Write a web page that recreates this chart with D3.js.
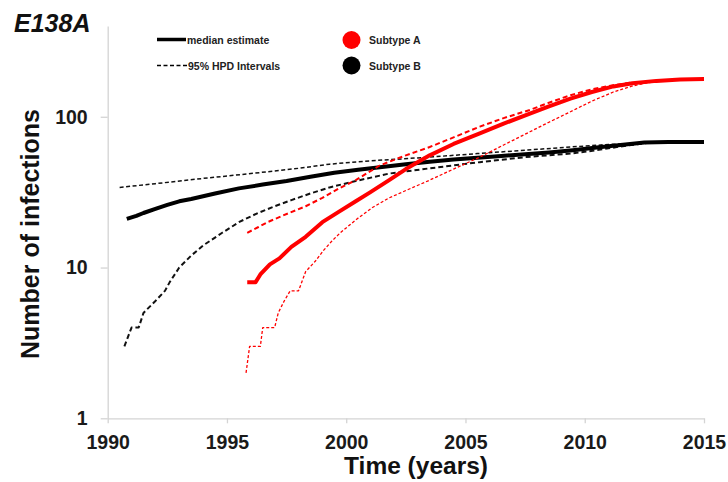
<!DOCTYPE html>
<html>
<head>
<meta charset="utf-8">
<script src="https://cdn.jsdelivr.net/npm/d3@7"></script>
<style>
  html, body { margin: 0; padding: 0; background: #fff; }
  svg { display: block; }
  text { font-family: "Liberation Sans", Arial, sans-serif; }
</style>
</head>
<body>
<div id="chart"></div>
<script>
// ---------- data ----------
const chartTitle = "E138A";
const xTickValues = [1990, 1995, 2000, 2005, 2010, 2015];
const yTickValues = [1, 10, 100];
const xAxisTitle = "Time (years)";
const yAxisTitle = "Number of infections";
const legendLines = ["median estimate", "95% HPD Intervals"];
const legendSubtypes = ["Subtype A", "Subtype B"];

// Subtype B (black)
const subtypeBMedian = [
  [1990.8, 21], [1991.2, 22], [1991.5, 23], [1992.0, 24.5], [1992.5, 26], [1993.0, 27.5],
  [1993.5, 28.5], [1994.5, 31], [1995.5, 33.5], [1996.5, 35.5], [1997.5, 37.5],
  [1998.5, 40], [1999.5, 42.5], [2000.5, 44.5], [2001.5, 46.5], [2002.5, 48.5],
  [2003.5, 50.3], [2004.5, 52], [2005.5, 53.5], [2006.5, 55], [2007.5, 56.5],
  [2008.5, 58], [2009.5, 60], [2010.5, 62.5], [2011.5, 65], [2012.5, 67.5],
  [2013.5, 68], [2015.0, 68]
];
const subtypeBUpper = [
  [1990.5, 34], [1992.0, 36], [1994.0, 39], [1996.0, 42], [1998.0, 45.5],
  [1999.3, 48.5], [2001.0, 51], [2003.5, 54], [2005.5, 57], [2007.5, 60],
  [2009.4, 63], [2011.0, 65.5], [2012.0, 66.5], [2013.0, 67.5]
];
const subtypeBLower = [
  [1990.7, 3], [1991.0, 4], [1991.3, 4], [1991.5, 5], [1992.0, 6], [1992.4, 7],
  [1992.6, 8], [1993.0, 10], [1993.5, 12], [1994.0, 14], [1994.8, 17], [1995.5, 20],
  [1996.3, 23], [1997.0, 25.5], [1997.7, 28], [1998.5, 31], [1999.3, 34],
  [2000.4, 37.5], [2001.8, 42], [2003.5, 45.5], [2005.6, 50], [2007.5, 54],
  [2009.4, 57], [2010.5, 60], [2011.5, 63.5], [2012.6, 67]
];

// Subtype A (red)
const subtypeAMedian = [
  [1995.85, 8], [1996.2, 8], [1996.4, 9], [1996.8, 10.5], [1997.2, 11.5],
  [1997.7, 13.7], [1998.3, 16], [1999.0, 20], [1999.7, 23.5], [2000.4, 27.5],
  [2001.0, 31.5], [2001.8, 38], [2002.5, 45], [2003.5, 55.5], [2004.5, 66],
  [2005.6, 77.5], [2006.6, 90], [2007.7, 105], [2008.5, 117], [2009.4, 132],
  [2010.3, 146], [2011.2, 159], [2012.0, 167], [2013.0, 173],
  [2014.0, 177], [2015.0, 178]
];
const subtypeAUpper = [
  [1995.85, 17], [1996.3, 18.5], [1996.7, 20], [1997.6, 23], [1998.3, 25.5],
  [1999.0, 29], [1999.7, 33.5], [2000.4, 38], [2001.4, 47.5], [2002.5, 55.5],
  [2003.5, 63], [2004.5, 73], [2005.6, 86], [2006.6, 98], [2007.7, 111],
  [2008.5, 124], [2009.4, 139], [2010.3, 152], [2011.2, 162], [2012.0, 169]
];
const subtypeALower = [
  [1995.8, 2], [1995.95, 3], [1996.4, 3], [1996.5, 4], [1997.0, 4], [1997.15, 5],
  [1997.4, 6], [1997.65, 7], [1998.0, 7], [1998.3, 9.4], [1998.7, 11], [1999.05, 13],
  [1999.4, 15], [1999.75, 17], [2000.45, 21], [2001.1, 25], [2001.8, 29],
  [2002.8, 34], [2003.5, 38], [2004.5, 45], [2005.6, 54], [2006.6, 65],
  [2007.7, 79.5], [2008.5, 92], [2009.4, 108], [2010.3, 127], [2011.2, 146],
  [2012.0, 160], [2012.6, 168], [2013.5, 175]
];

// ---------- layout ----------
const W = 728, H = 482;
const plot = { left: 107.7, right: 704, top: 26, bottom: 418.3 };

const svg = d3.select("#chart").append("svg")
  .attr("width", W).attr("height", H);

const x = d3.scaleLinear().domain([1990, 2015]).range([plot.left, plot.right]);
const y = d3.scaleLog().domain([1, 400]).range([plot.bottom, plot.top]);

const axisColor = "#d4d4d4";

// x axis
const gx = svg.append("g")
  .attr("transform", `translate(0,${plot.bottom})`)
  .call(d3.axisBottom(x).tickValues(xTickValues).tickFormat(d3.format("d"))
    .tickSize(5).tickSizeOuter(0).tickPadding(12));
gx.select(".domain").attr("stroke", axisColor).attr("stroke-width", 1.3);
gx.selectAll(".tick line").attr("stroke", axisColor).attr("stroke-width", 1.3);
gx.selectAll(".tick text")
  .attr("font-size", "19.5px").attr("font-weight", "bold").attr("fill", "#1a1a1a")
  .style("font-family", "'Liberation Sans', Arial, sans-serif");

// y axis
const gy = svg.append("g")
  .attr("transform", `translate(${plot.left},0)`)
  .call(d3.axisLeft(y).tickValues(yTickValues).tickFormat(d3.format("d"))
    .tickSize(7).tickSizeOuter(0).tickPadding(13));
gy.select(".domain").attr("stroke", axisColor).attr("stroke-width", 1.3);
gy.selectAll(".tick line").attr("stroke", axisColor).attr("stroke-width", 1.3);
gy.selectAll(".tick text")
  .attr("font-size", "19.5px").attr("font-weight", "bold").attr("fill", "#1a1a1a")
  .style("font-family", "'Liberation Sans', Arial, sans-serif");

// axis titles
svg.append("text")
  .attr("x", 416).attr("y", 474)
  .attr("text-anchor", "middle")
  .attr("font-size", "24.5px").attr("font-weight", "bold").attr("fill", "#111")
  .text(xAxisTitle);

svg.append("text")
  .attr("transform", `translate(39,234) rotate(-90)`)
  .attr("text-anchor", "middle")
  .attr("font-size", "25px").attr("font-weight", "bold").attr("fill", "#111")
  .text(yAxisTitle);

// chart title
svg.append("text")
  .attr("x", 14).attr("y", 32)
  .attr("font-size", "25px").attr("font-weight", "bold").attr("font-style", "italic")
  .attr("fill", "#111")
  .text(chartTitle);

// ---------- lines ----------
const line = d3.line().x(d => x(d[0])).y(d => y(d[1]));

const series = [
  { data: subtypeBUpper,  color: "#111", width: 1.5, dash: "4,2.5" },
  { data: subtypeBLower,  color: "#111", width: 2,   dash: "5,3" },
  { data: subtypeBMedian, color: "#000", width: 4,   dash: null },
  { data: subtypeAUpper,  color: "#f00", width: 2,   dash: "5,3" },
  { data: subtypeALower,  color: "#f00", width: 1.3, dash: "3,2" },
  { data: subtypeAMedian, color: "#f00", width: 4,   dash: null }
];

svg.append("g").selectAll("path").data(series).join("path")
  .attr("d", d => line(d.data))
  .attr("fill", "none")
  .attr("stroke", d => d.color)
  .attr("stroke-width", d => d.width)
  .attr("stroke-dasharray", d => d.dash)
  .attr("stroke-linejoin", "round");

// ---------- legend ----------
const lg = svg.append("g").attr("font-size", "10.5px").attr("font-weight", "bold").attr("fill", "#222");
lg.append("line").attr("x1", 157).attr("x2", 186).attr("y1", 39.5).attr("y2", 39.5)
  .attr("stroke", "#000").attr("stroke-width", 3.5);
lg.append("text").attr("x", 187).attr("y", 43.5).text(legendLines[0]);
lg.append("line").attr("x1", 157).attr("x2", 187).attr("y1", 65.5).attr("y2", 65.5)
  .attr("stroke", "#000").attr("stroke-width", 1.6).attr("stroke-dasharray", "4,2.5");
lg.append("text").attr("x", 188).attr("y", 69.5).text(legendLines[1]);

lg.append("circle").attr("cx", 351.5).attr("cy", 40).attr("r", 9).attr("fill", "#f00");
lg.append("text").attr("x", 369).attr("y", 44).text(legendSubtypes[0]);
lg.append("circle").attr("cx", 351.5).attr("cy", 65.5).attr("r", 9).attr("fill", "#000");
lg.append("text").attr("x", 369).attr("y", 69.5).text(legendSubtypes[1]);
</script>
</body>
</html>
